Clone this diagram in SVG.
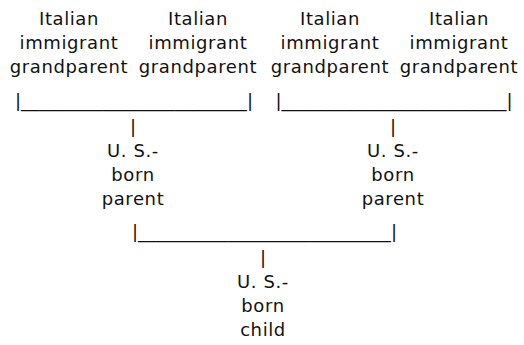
<svg xmlns="http://www.w3.org/2000/svg" width="524" height="345" viewBox="0 0 524 345">
<style>
text{font-family:"DejaVu Sans",Verdana,sans-serif;font-size:18px;fill:#111;text-anchor:middle;letter-spacing:0.6px}
text.c{letter-spacing:0}
</style>
<rect width="524" height="345" fill="#fff"/>
<g id="gp1"><text x="69" y="25">Italian</text><text x="69" y="49">immigrant</text><text x="69" y="73">grandparent</text></g>
<g id="gp2"><text x="198" y="25">Italian</text><text x="198" y="49">immigrant</text><text x="198" y="73">grandparent</text></g>
<g id="gp3"><text x="330" y="25">Italian</text><text x="330" y="49">immigrant</text><text x="330" y="73">grandparent</text></g>
<g id="gp4"><text x="459" y="25">Italian</text><text x="459" y="49">immigrant</text><text x="459" y="73">grandparent</text></g>
<g id="connectors">
<text class="c" x="134" y="107" textLength="238" lengthAdjust="spacingAndGlyphs">|_________________________|</text>
<text class="c" x="394" y="107" textLength="237" lengthAdjust="spacingAndGlyphs">|_________________________|</text>
<text class="c" x="133" y="133">|</text>
<text class="c" x="393" y="133">|</text>
<text class="c" x="264.5" y="238" textLength="265" lengthAdjust="spacingAndGlyphs">|____________________________|</text>
<text class="c" x="263" y="264">|</text>
</g>
<g id="p1"><text x="133" y="157">U. S.-</text><text x="133" y="181">born</text><text x="133" y="205">parent</text></g>
<g id="p2"><text x="393" y="157">U. S.-</text><text x="393" y="181">born</text><text x="393" y="205">parent</text></g>
<g id="child"><text x="263" y="288">U. S.-</text><text x="263" y="312">born</text><text x="263" y="336">child</text></g>
</svg>
